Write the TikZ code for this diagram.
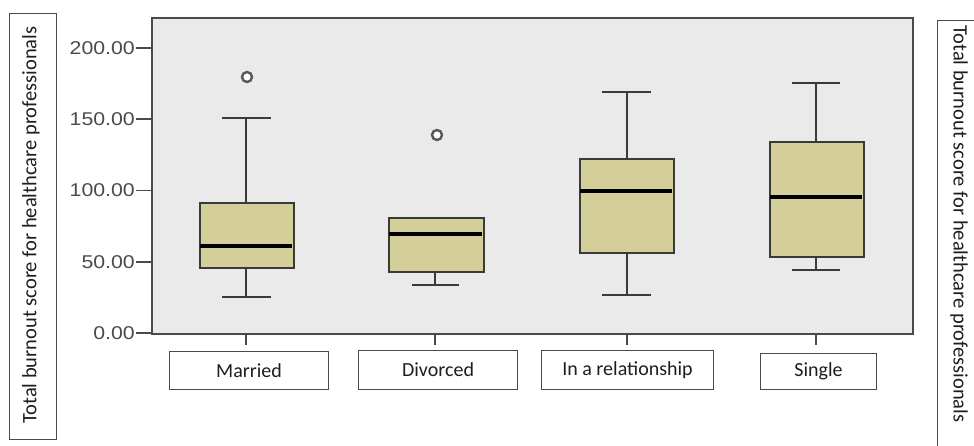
\documentclass[tikz,border=0pt]{standalone}
\usepackage{fontspec}
\setmainfont{Carlito}
\newfontfamily\tickfont{Liberation Sans}
\definecolor{plotbg}{HTML}{EAEAEA}
\definecolor{boxfill}{HTML}{D4CF98}
\definecolor{linec}{HTML}{3A3A3A}
\definecolor{framec}{HTML}{4A4A4A}
\definecolor{textc}{HTML}{1E1E1E}
\begin{document}
\begin{tikzpicture}[x=1pt,y=-1pt,
  boxst/.style={draw=linec, fill=boxfill, line width=2pt, inner sep=0pt, anchor=north west},
  whisk/.style={draw=linec, line width=2pt},
  medst/.style={draw=black, line width=4.5pt},
  outl/.style={circle, draw=linec!85, fill=white, line width=2.4pt, minimum size=10pt, inner sep=0pt},
  labbox/.style={draw=framec, fill=white, line width=1.1pt, inner sep=0pt, anchor=north west, text=textc, font=\fontsize{20}{24}\selectfont},
  ticklab/.style={anchor=east, text=textc!80, font=\tickfont\fontsize{18.5}{21}\selectfont, xscale=1.15, inner sep=0pt},
  tickst/.style={draw=framec, line width=1.8pt},
  ytitle/.style={text=textc, font=\fontsize{20.5}{24}\selectfont, inner sep=0pt}
]
\useasboundingbox (0,0) rectangle (974,446);
\fill[white] (0,0) rectangle (974,446);

% plot area
\node[draw=framec, fill=plotbg, line width=2pt, minimum width=761pt, minimum height=316pt, anchor=north west, inner sep=0pt] (plot) at (151,17) {};

% y ticks
\foreach \v/\lab [count=\i] in {0/0.00,50/50.00,100/100.00,150/150.00,200/200.00}{
  \coordinate (yt\i) at (151,{333-\v*1.425});
  \coordinate (ys\i) at (136,{333-\v*1.425});
  \draw[tickst] (ys\i) -- (yt\i);
  \node[ticklab] (yl\i) at (135,{333-\v*1.425}) {\lab};
}

% Married
\node[boxst, minimum width=94pt, minimum height=65pt] (mbox) at (199,202) {};
\coordinate (mwt) at (246,118); \coordinate (mwb) at (246,297);
\coordinate (mtl) at (222,118); \coordinate (mtr) at (271,118);
\coordinate (mbl) at (222,297); \coordinate (mbr) at (271,297);
\draw[whisk] (mbox.north -| mwt) -- (mwt); \draw[whisk] (mtl) -- (mtr);
\draw[whisk] (mbox.south -| mwb) -- (mwb); \draw[whisk] (mbl) -- (mbr);
\coordinate (mml) at (200,246); \coordinate (mmr) at (292,246);
\draw[medst] (mml) -- (mmr);
\node[outl] (mo) at (247,77) {};

% Divorced
\node[boxst, minimum width=95pt, minimum height=54pt] (dbox) at (388,217) {};
\coordinate (dwb) at (435,285);
\coordinate (dbl) at (412,285); \coordinate (dbr) at (459,285);
\draw[whisk] (dbox.south -| dwb) -- (dwb); \draw[whisk] (dbl) -- (dbr);
\coordinate (dml) at (389,234); \coordinate (dmr) at (482,234);
\draw[medst] (dml) -- (dmr);
\node[outl] (do) at (437,135) {};

% In a relationship
\node[boxst, minimum width=94pt, minimum height=94pt] (rbox) at (579,158) {};
\coordinate (rwt) at (627,92); \coordinate (rwb) at (627,295);
\coordinate (rtl) at (602,92); \coordinate (rtr) at (651,92);
\coordinate (rbl) at (602,295); \coordinate (rbr) at (651,295);
\draw[whisk] (rbox.north -| rwt) -- (rwt); \draw[whisk] (rtl) -- (rtr);
\draw[whisk] (rbox.south -| rwb) -- (rwb); \draw[whisk] (rbl) -- (rbr);
\coordinate (rml) at (580,191); \coordinate (rmr) at (672,191);
\draw[medst] (rml) -- (rmr);

% Single
\node[boxst, minimum width=94pt, minimum height=115pt] (sbox) at (769,141) {};
\coordinate (swt) at (816,83); \coordinate (swb) at (816,270);
\coordinate (stl) at (792,83); \coordinate (str) at (840,83);
\coordinate (sbl) at (792,270); \coordinate (sbr) at (840,270);
\draw[whisk] (sbox.north -| swt) -- (swt); \draw[whisk] (stl) -- (str);
\draw[whisk] (sbox.south -| swb) -- (swb); \draw[whisk] (sbl) -- (sbr);
\coordinate (sml) at (770,197); \coordinate (smr) at (862,197);
\draw[medst] (sml) -- (smr);

% x ticks
\foreach \n/\x in {m/246,d/435,r/627,s/816}{
  \coordinate (\n xa) at (\x,333); \coordinate (\n xb) at (\x,345);
  \draw[tickst] (\n xa) -- (\n xb);
}

% category label boxes
\node[labbox, minimum width=159pt, minimum height=38pt] (lm) at (169,351) {Married};
\node[labbox, minimum width=159pt, minimum height=39pt] (ld) at (358,350) {Divorced};
\node[labbox, minimum width=172pt, minimum height=39pt] (lr) at (541,350) {In a relationship};
\node[labbox, minimum width=116pt, minimum height=36pt] (ls) at (760,353) {Single};

% y-axis title boxes
\node[draw=framec, line width=1.1pt, minimum width=47pt, minimum height=426pt, anchor=north west, inner sep=0pt] (ltb) at (9,13) {};
\node[ytitle, rotate=90] (lt) at (31,225) {Total burnout score for healthcare professionals};
\node[draw=framec, line width=1.1pt, minimum width=60pt, minimum height=440pt, anchor=north west, inner sep=0pt] (rtb) at (937,20) {};
\node[ytitle, rotate=-90] (rt) at (959,224) {Total burnout score for healthcare professionals};
\end{tikzpicture}
\end{document}
